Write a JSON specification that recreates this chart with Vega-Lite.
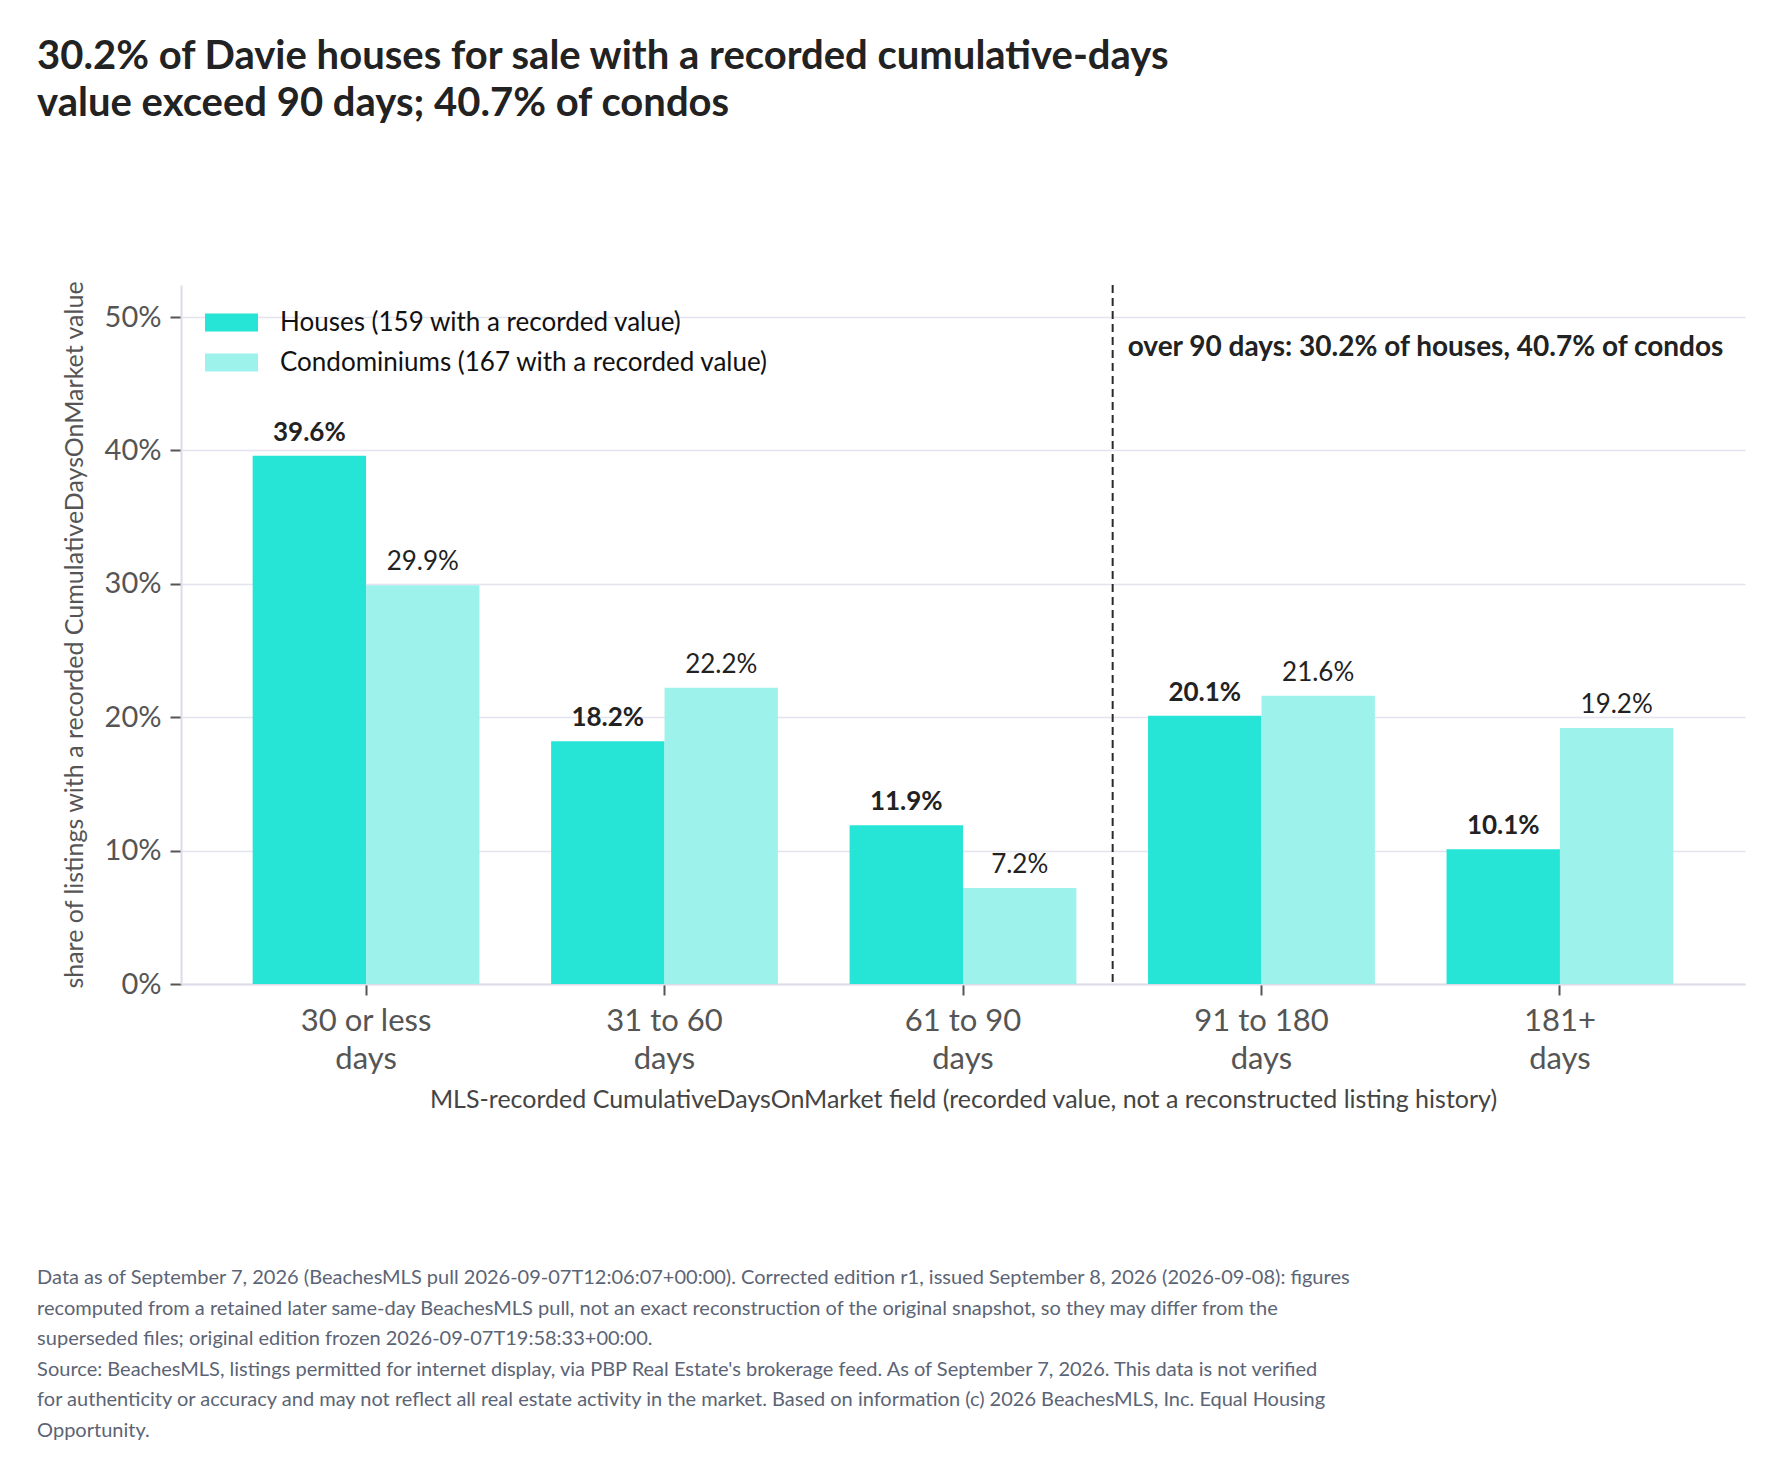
{
  "$schema": "https://vega.github.io/schema/vega-lite/v6.json",
  "background": "white",
  "padding": {"left": 37, "top": 37, "right": 10, "bottom": 10},
  "title": {
    "text": ["30.2% of Davie houses for sale with a recorded cumulative-days", "value exceed 90 days; 40.7% of condos"],
    "anchor": "start",
    "frame": "bounds",
    "dx": 0,
    "offset": 156,
    "font": "Lato",
    "fontSize": 40,
    "fontWeight": "bold",
    "color": "#222222",
    "lineHeight": 47
  },
  "vconcat": [
    {
      "width": 1564,
      "height": 699,
      "title": {
        "text": [
          "Data as of September 7, 2026 (BeachesMLS pull 2026-09-07T12:06:07+00:00). Corrected edition r1, issued September 8, 2026 (2026-09-08): figures",
          "recomputed from a retained later same-day BeachesMLS pull, not an exact reconstruction of the original snapshot, so they may differ from the",
          "superseded files; original edition frozen 2026-09-07T19:58:33+00:00.",
          "Source: BeachesMLS, listings permitted for internet display, via PBP Real Estate's brokerage feed. As of September 7, 2026. This data is not verified",
          "for authenticity or accuracy and may not reflect all real estate activity in the market. Based on information (c) 2026 BeachesMLS, Inc. Equal Housing",
          "Opportunity."
        ],
        "orient": "bottom",
        "anchor": "start",
        "frame": "bounds",
        "baseline": "top",
        "dx": -25,
        "offset": 156,
        "font": "Lato",
        "fontSize": 20,
        "fontWeight": "normal",
        "color": "#5b6475",
        "lineHeight": 30.6
      },
      "data": {
        "values": [
          {"bucket": "30 or less days", "type": "Houses (159 with a recorded value)", "share": 0.396},
          {"bucket": "30 or less days", "type": "Condominiums (167 with a recorded value)", "share": 0.299},
          {"bucket": "31 to 60 days", "type": "Houses (159 with a recorded value)", "share": 0.182},
          {"bucket": "31 to 60 days", "type": "Condominiums (167 with a recorded value)", "share": 0.222},
          {"bucket": "61 to 90 days", "type": "Houses (159 with a recorded value)", "share": 0.119},
          {"bucket": "61 to 90 days", "type": "Condominiums (167 with a recorded value)", "share": 0.072},
          {"bucket": "91 to 180 days", "type": "Houses (159 with a recorded value)", "share": 0.201},
          {"bucket": "91 to 180 days", "type": "Condominiums (167 with a recorded value)", "share": 0.216},
          {"bucket": "181+ days", "type": "Houses (159 with a recorded value)", "share": 0.101},
          {"bucket": "181+ days", "type": "Condominiums (167 with a recorded value)", "share": 0.192}
        ]
      },
      "layer": [
        {
          "mark": {"type": "bar"},
          "encoding": {
            "x": {
              "field": "bucket",
              "type": "nominal",
              "scale": {"domain": ["30 or less days", "31 to 60 days", "61 to 90 days", "91 to 180 days", "181+ days"], "paddingInner": 0.24, "paddingOuter": 0.24},
              "axis": {
                "title": "MLS-recorded CumulativeDaysOnMarket field (recorded value, not a reconstructed listing history)",
                "labelAngle": 0,
                "labelExpr": "[replace(datum.label, ' days', ''), 'days']",
                "labelLineHeight": 38,
                "labelFontSize": 31,
                "labelPadding": 11,
                "titleFontSize": 25,
                "titlePadding": 13,
                "titleColor": "#444444",
                "grid": false
              }
            },
            "xOffset": {"field": "type", "type": "nominal", "scale": {"domain": ["Houses (159 with a recorded value)", "Condominiums (167 with a recorded value)"]}},
            "y": {
              "field": "share",
              "type": "quantitative",
              "scale": {"domain": [0, 0.524], "nice": false},
              "axis": {
                "title": "share of listings with a recorded CumulativeDaysOnMarket value",
                "values": [0, 0.1, 0.2, 0.3, 0.4, 0.5],
                "format": ".0%",
                "labelFontSize": 29,
                "labelPadding": 9,
                "titleFontSize": 25,
                "titlePadding": 17,
                "titleColor": "#555555"
              }
            },
            "color": {
              "field": "type",
              "type": "nominal",
              "scale": {"domain": ["Houses (159 with a recorded value)", "Condominiums (167 with a recorded value)"], "range": ["#26e5d7", "#9ef2ec"]},
              "legend": {
                "title": null,
                "orient": "none",
                "legendX": 24,
                "legendY": 11,
                "symbolType": "M-1,-0.34H1V0.34H-1Z",
                "symbolSize": 2809,
                "symbolStrokeWidth": 0,
                "labelFontSize": 26,
                "labelColor": "#111111",
                "labelOffset": 22,
                "rowPadding": 0,
                "labelLimit": 700
              }
            }
          }
        },
        {
          "transform": [{"filter": "datum.type == 'Houses (159 with a recorded value)'"}],
          "mark": {"type": "text", "baseline": "alphabetic", "dy": -15, "fontSize": 26, "fontWeight": "bold", "color": "#222222"},
          "encoding": {
            "x": {"field": "bucket", "type": "nominal"},
            "xOffset": {"field": "type", "type": "nominal"},
            "y": {"field": "share", "type": "quantitative"},
            "text": {"field": "share", "type": "quantitative", "format": ".1%"}
          }
        },
        {
          "transform": [{"filter": "datum.type == 'Condominiums (167 with a recorded value)'"}],
          "mark": {"type": "text", "baseline": "alphabetic", "dy": -15, "fontSize": 26, "fontWeight": "normal", "color": "#222222"},
          "encoding": {
            "x": {"field": "bucket", "type": "nominal"},
            "xOffset": {"field": "type", "type": "nominal"},
            "y": {"field": "share", "type": "quantitative"},
            "text": {"field": "share", "type": "quantitative", "format": ".1%"}
          }
        },
        {
          "data": {"values": [{"boundary": "91 to 180 days"}]},
          "mark": {"type": "rule", "color": "#2a2a2a", "strokeWidth": 2, "strokeDash": [8, 5]},
          "encoding": {
            "x": {"field": "boundary", "type": "nominal", "bandPosition": -0.156}
          }
        },
        {
          "data": {"values": [{"boundary": "91 to 180 days", "note": "over 90 days: 30.2% of houses, 40.7% of condos"}]},
          "mark": {"type": "text", "align": "left", "baseline": "alphabetic", "dx": 15, "fontSize": 28, "fontWeight": "bold", "color": "#222222"},
          "encoding": {
            "x": {"field": "boundary", "type": "nominal", "bandPosition": -0.156},
            "y": {"datum": 0.471},
            "text": {"field": "note"}
          }
        }
      ]
    }
  ],
  "config": {
    "font": "Lato",
    "view": {"stroke": null},
    "axis": {
      "labelColor": "#555555",
      "labelFont": "Lato",
      "titleFont": "Lato",
      "titleFontWeight": "normal",
      "tickColor": "#555555",
      "tickSize": 11,
      "tickWidth": 2,
      "domainColor": "#dcdcec",
      "domainWidth": 2,
      "gridColor": "#e4e4f0",
      "gridWidth": 1.5
    },
    "legend": {"labelFont": "Lato"}
  }
}
